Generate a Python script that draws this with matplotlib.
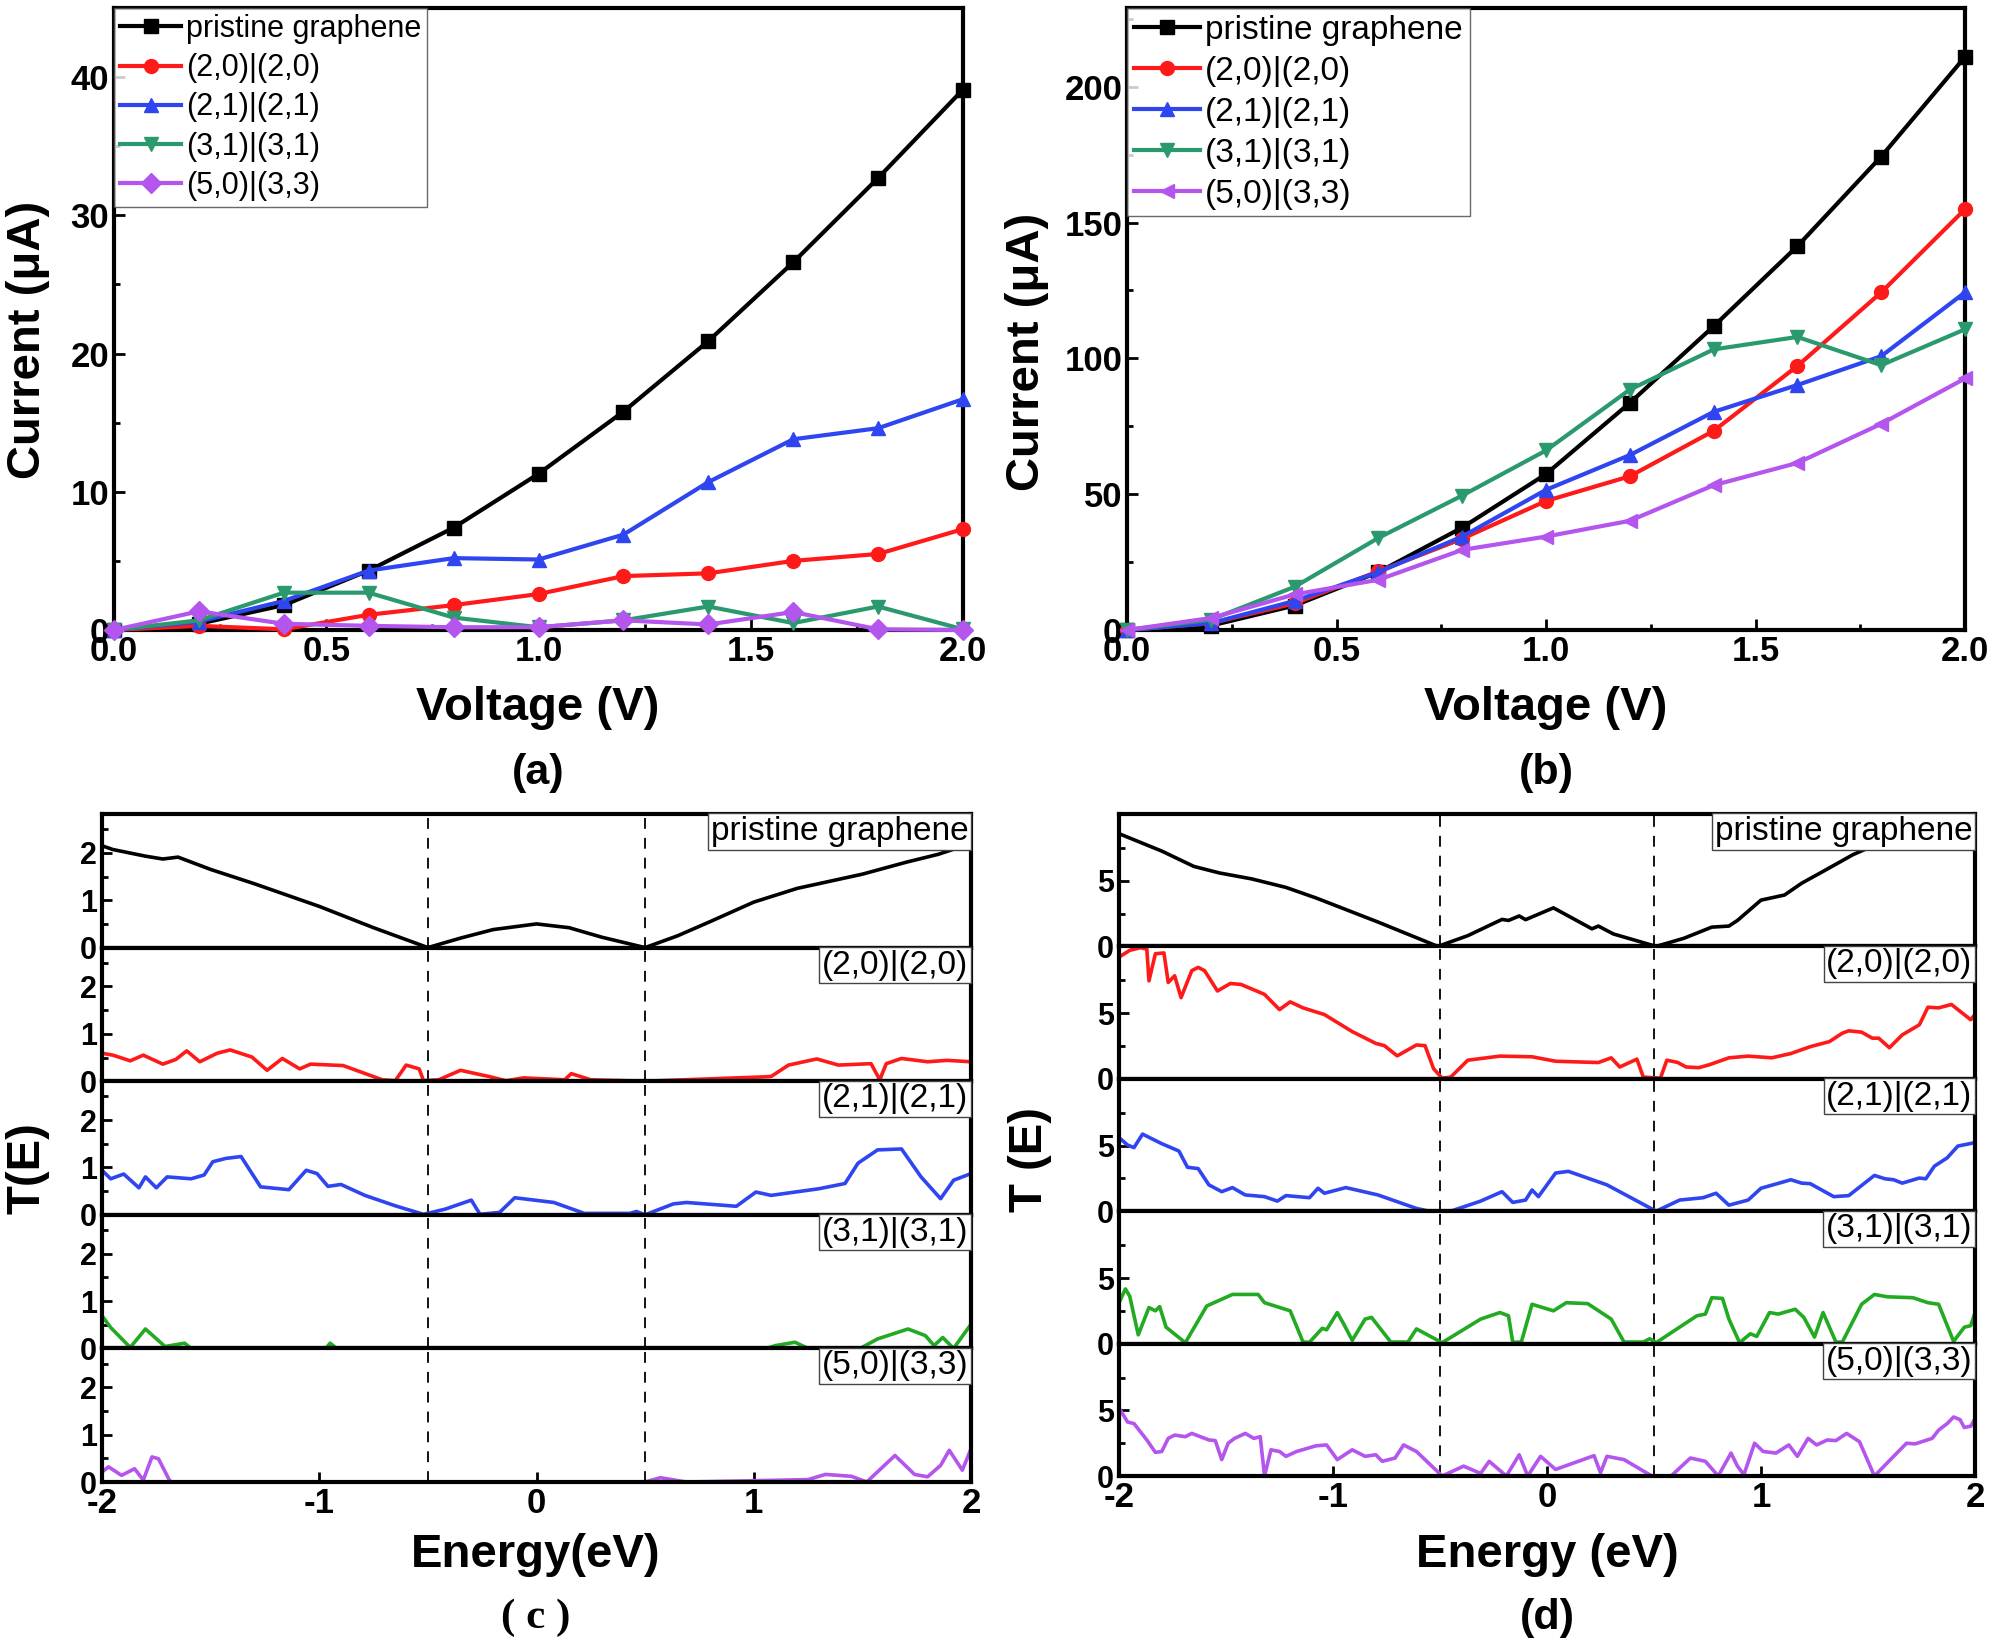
import matplotlib
matplotlib.use("Agg")
import matplotlib.pyplot as plt
from matplotlib.ticker import MultipleLocator, FixedLocator

plt.rcParams['font.family'] = ['Liberation Sans', 'DejaVu Sans']

# ---------------- I-V data, panels (a) and (b) ----------------
voltage = [0.0, 0.2, 0.4, 0.6, 0.8, 1.0, 1.2, 1.4, 1.6, 1.8, 2.0]
labels = ["pristine graphene", "(2,0)|(2,0)", "(2,1)|(2,1)", "(3,1)|(3,1)", "(5,0)|(3,3)"]

iv_a_pristine = [0.0, 0.45, 1.8, 4.3, 7.4, 11.3, 15.8, 20.9, 26.6, 32.7, 39.1]
iv_a_20 = [0.0, 0.3, 0.05, 1.1, 1.8, 2.6, 3.9, 4.1, 5.0, 5.5, 7.3]
iv_a_21 = [0.0, 0.6, 2.1, 4.3, 5.2, 5.1, 6.9, 10.7, 13.8, 14.6, 16.7]
iv_a_31 = [0.0, 0.7, 2.7, 2.7, 0.9, 0.2, 0.7, 1.7, 0.5, 1.7, 0.05]
iv_a_50 = [0.0, 1.35, 0.45, 0.3, 0.2, 0.2, 0.7, 0.4, 1.3, 0.05, 0.0]

iv_b_pristine = [0.0, 1.6, 9.0, 21.3, 37.7, 57.4, 83.6, 111.8, 141.3, 174.3, 211.0]
iv_b_20 = [0.0, 2.5, 9.8, 21.6, 33.6, 47.5, 56.6, 73.3, 97.2, 124.3, 154.9]
iv_b_21 = [0.0, 2.5, 10.7, 21.3, 34.4, 51.6, 64.4, 80.3, 90.2, 100.8, 124.3]
iv_b_31 = [0.0, 3.8, 15.9, 33.9, 49.5, 66.1, 88.5, 103.3, 107.9, 97.5, 110.7]
iv_b_50 = [0.0, 4.4, 13.1, 18.5, 29.5, 34.4, 40.2, 53.3, 61.5, 75.9, 92.6]

# ---------------- transmission data, panel (c) ----------------
c_pristine_E = [-2.0, -1.95, -1.8, -1.72, -1.65, -1.5, -1.3, -1.0, -0.75, -0.5, -0.35, -0.2, 0.0,
                0.15, 0.3, 0.5, 0.65, 0.8, 1.0, 1.2, 1.5, 1.7, 1.85, 2.0]
c_pristine_T = [2.15, 2.07, 1.93, 1.87, 1.91, 1.65, 1.35, 0.87, 0.42, 0.0, 0.2, 0.38, 0.5,
                0.42, 0.22, 0.0, 0.25, 0.55, 0.96, 1.25, 1.55, 1.8, 1.97, 2.2]

c_20_E = [-2.0, -1.95, -1.87, -1.81, -1.72, -1.66, -1.61, -1.55, -1.47, -1.41, -1.31, -1.24, -1.17,
          -1.09, -1.04, -0.89, -0.83, -0.71, -0.65, -0.6, -0.54, -0.52, -0.45, -0.35, -0.22, -0.14,
          -0.06, 0.13, 0.16, 0.25, 0.5, 1.04, 1.08, 1.16, 1.29, 1.39, 1.54, 1.58, 1.61, 1.68, 1.8,
          1.89, 2.0]
c_20_T = [0.59, 0.55, 0.43, 0.55, 0.36, 0.46, 0.64, 0.41, 0.59, 0.66, 0.51, 0.23, 0.48,
          0.26, 0.36, 0.33, 0.23, 0.03, 0.01, 0.34, 0.26, 0.01, 0.03, 0.23, 0.10, 0.01,
          0.07, 0.03, 0.16, 0.03, 0.0, 0.09, 0.10, 0.34, 0.47, 0.34, 0.37, 0.03, 0.37, 0.48, 0.41,
          0.44, 0.41]

c_21_E = [-2.0, -1.96, -1.9, -1.83, -1.8, -1.75, -1.7, -1.59, -1.53, -1.49, -1.43, -1.36, -1.27,
          -1.14, -1.06, -1.01, -0.96, -0.9, -0.79, -0.65, -0.52, -0.42, -0.3, -0.26, -0.17, -0.1,
          0.08, 0.22, 0.43, 0.46, 0.5, 0.63, 0.69, 0.92, 1.01, 1.08, 1.3, 1.42, 1.48, 1.57, 1.68,
          1.77, 1.86, 1.92, 2.0]
c_21_T = [0.94, 0.76, 0.86, 0.57, 0.80, 0.57, 0.80, 0.76, 0.84, 1.12, 1.19, 1.23, 0.59,
          0.53, 0.94, 0.87, 0.60, 0.64, 0.41, 0.19, 0.01, 0.12, 0.31, 0.01, 0.05, 0.36,
          0.26, 0.03, 0.03, 0.07, 0.0, 0.23, 0.26, 0.18, 0.48, 0.41, 0.55, 0.66, 1.09, 1.37, 1.39,
          0.80, 0.34, 0.73, 0.87]

c_31_E = [-2.0, -1.96, -1.87, -1.8, -1.71, -1.62, -1.59, -0.97, -0.95, -0.92, 1.06, 1.1, 1.19,
          1.25, 1.49, 1.57, 1.71, 1.79, 1.83, 1.87, 1.92, 2.0]
c_31_T = [0.69, 0.44, 0.02, 0.41, 0.04, 0.11, 0.0, 0.0, 0.11, 0.0, 0.0, 0.06, 0.13,
          0.0, 0.0, 0.20, 0.41, 0.27, 0.06, 0.23, 0.0, 0.51]

c_50_E = [-2.0, -1.97, -1.91, -1.85, -1.81, -1.77, -1.74, -1.69, -1.68, 0.5, 0.57, 0.69, 1.25,
          1.33, 1.45, 1.52, 1.65, 1.74, 1.8, 1.86, 1.9, 1.96, 2.0]
c_50_T = [0.21, 0.32, 0.14, 0.28, 0.04, 0.53, 0.49, 0.04, 0.0, 0.0, 0.09, 0.0, 0.05,
          0.16, 0.12, 0.0, 0.56, 0.16, 0.11, 0.35, 0.67, 0.25, 0.70]

# ---------------- transmission data, panel (d) ----------------
d_pristine_E = [-2.0, -1.8, -1.65, -1.53, -1.38, -1.22, -1.08, -0.79, -0.51, -0.37, -0.21, -0.18,
                -0.13, -0.1, 0.03, 0.21, 0.24, 0.31, 0.51, 0.64, 0.77, 0.85, 0.89, 1.0, 1.11, 1.19,
                1.29, 1.43, 1.5]
d_pristine_T = [8.6, 7.27, 6.1, 5.6, 5.15, 4.5, 3.7, 1.86, 0.0, 0.82, 2.06, 1.98,
                2.32, 2.04, 2.94, 1.34, 1.55, 0.95, 0.0, 0.62, 1.47, 1.55, 1.98, 3.53, 3.92, 4.82,
                5.72, 7.0, 7.5]

d_20_E = [-2.0, -1.95, -1.9, -1.87, -1.86, -1.83, -1.79, -1.77, -1.74, -1.71, -1.66, -1.63, -1.6,
          -1.54, -1.48, -1.43, -1.32, -1.25, -1.2, -1.14, -1.04, -0.91, -0.8, -0.76, -0.7, -0.61,
          -0.57, -0.53, -0.49, -0.45, -0.37, -0.22, -0.07, 0.04, 0.24, 0.3, 0.34, 0.42, 0.45, 0.53,
          0.56, 0.61, 0.65, 0.71, 0.76, 0.85, 0.94, 1.05, 1.14, 1.23, 1.32, 1.38, 1.41, 1.47, 1.52,
          1.55, 1.6, 1.66, 1.74, 1.78, 1.83, 1.89, 1.93, 1.98, 2.0]
d_20_T = [9.28, 9.8, 10.0, 9.9, 7.47, 9.54, 9.6, 7.35, 7.86, 6.19, 8.25, 8.5, 8.25,
          6.7, 7.27, 7.2, 6.44, 5.28, 5.87, 5.41, 4.9, 3.6, 2.7, 2.53, 1.75, 2.58,
          2.53, 0.77, 0.05, 0.13, 1.42, 1.73, 1.68, 1.34, 1.24, 1.6, 0.9, 1.5, 0.13, 0.05,
          1.42, 1.25, 0.9, 0.85, 1.08, 1.6, 1.73, 1.6, 1.93, 2.45, 2.84, 3.48, 3.66, 3.56, 3.1,
          3.1, 2.37, 3.35, 4.12, 5.46, 5.41, 5.67, 5.15, 4.51, 4.9]

d_21_E = [-2.0, -1.96, -1.93, -1.89, -1.8, -1.72, -1.68, -1.63, -1.58, -1.52, -1.47, -1.41, -1.32,
          -1.26, -1.22, -1.11, -1.07, -1.04, -0.94, -0.79, -0.61, -0.55, -0.45, -0.31, -0.21, -0.16,
          -0.1, -0.07, -0.04, 0.04, 0.1, 0.28, 0.51, 0.62, 0.73, 0.79, 0.85, 0.94, 1.0, 1.14, 1.19,
          1.23, 1.34, 1.41, 1.53, 1.58, 1.62, 1.66, 1.74, 1.77, 1.81, 1.87, 1.92, 2.0]
d_21_T = [5.62, 5.05, 4.85, 5.88, 5.15, 4.59, 3.35, 3.25, 2.01, 1.49, 1.8, 1.24, 1.11,
          0.77, 1.19, 1.03, 1.75, 1.37, 1.8, 1.24, 0.21, 0.0, 0.0, 0.77, 1.49, 0.67,
          0.85, 1.62, 1.11, 2.91, 3.04, 2.01, 0.0, 0.85, 1.03, 1.37, 0.46, 0.85, 1.75, 2.4, 2.14,
          2.1, 1.11, 1.19, 2.73, 2.47, 2.4, 2.14, 2.53, 2.47, 3.43, 4.07, 4.97, 5.23]

d_31_E = [-2.0, -1.97, -1.95, -1.91, -1.86, -1.83, -1.81, -1.78, -1.69, -1.59, -1.47, -1.35, -1.32,
          -1.2, -1.14, -1.11, -1.05, -1.03, -0.98, -0.95, -0.91, -0.85, -0.82, -0.73, -0.65, -0.61,
          -0.49, -0.31, -0.22, -0.18, -0.16, -0.12, -0.07, 0.03, 0.09, 0.19, 0.3, 0.36, 0.45, 0.48,
          0.51, 0.7, 0.74, 0.77, 0.82, 0.85, 0.9, 0.95, 0.98, 1.04, 1.08, 1.16, 1.2, 1.25, 1.29,
          1.35, 1.38, 1.47, 1.53, 1.59, 1.71, 1.78, 1.83, 1.9, 1.95, 1.98, 2.0]
d_31_T = [3.12, 4.17, 3.62, 0.67, 2.75, 2.5, 2.82, 1.25, 0.07, 2.87, 3.75, 3.75, 3.12,
          2.5, 0.12, 0.1, 1.17, 1.05, 2.37, 1.5, 0.25, 1.87, 2.0, 0.12, 0.12, 1.12,
          0.07, 1.87, 2.37, 2.12, 0.1, 0.12, 3.0, 2.5, 3.12, 3.05, 1.87, 0.12, 0.12, 0.37,
          0.07, 2.12, 2.25, 3.5, 3.45, 1.87, 0.07, 0.75, 0.55, 2.37, 2.25, 2.62, 2.0, 0.5, 2.37,
          0.12, 0.12, 3.0, 3.75, 3.57, 3.5, 3.12, 3.0, 0.17, 1.25, 1.37, 2.37]

d_50_E = [-2.0, -1.96, -1.93, -1.87, -1.83, -1.8, -1.77, -1.74, -1.69, -1.66, -1.62, -1.58, -1.55,
          -1.52, -1.49, -1.46, -1.41, -1.37, -1.34, -1.32, -1.29, -1.25, -1.22, -1.17, -1.08, -1.03,
          -0.98, -0.91, -0.85, -0.8, -0.77, -0.71, -0.67, -0.61, -0.49, -0.39, -0.31, -0.27, -0.19,
          -0.13, -0.09, -0.03, 0.04, 0.22, 0.25, 0.28, 0.36, 0.49, 0.58, 0.67, 0.74, 0.8, 0.86,
          0.89, 0.92, 0.97, 1.01, 1.07, 1.13, 1.17, 1.22, 1.26, 1.31, 1.35, 1.4, 1.46, 1.53, 1.59,
          1.68, 1.72, 1.8, 1.83, 1.87, 1.9, 1.93, 1.95, 1.98, 2.0]
d_50_T = [5.2, 4.12, 4.0, 2.75, 1.8, 1.87, 2.87, 3.12, 3.0, 3.25, 3.0, 2.75, 2.7,
          1.25, 2.5, 2.87, 3.25, 2.87, 3.0, 0.0, 2.0, 1.87, 1.5, 1.87, 2.3, 2.37,
          1.25, 2.0, 1.5, 1.62, 1.12, 1.37, 2.37, 1.87, 0.0, 0.75, 0.2, 1.12, 0.0,
          1.62, 0.0, 1.5, 0.5, 1.55, 0.25, 1.5, 1.25, 0.0, 0.0, 1.37, 1.12, 0.0, 1.75,
          0.75, 0.1, 2.5, 1.87, 1.75, 2.37, 1.5, 2.87, 2.37, 2.75, 2.7, 3.25, 2.62, 0.0, 1.0,
          2.5, 2.45, 2.87, 3.5, 4.0, 4.5, 4.3, 3.7, 3.8, 4.37]

# ---------------- styling ----------------
iv_colors = ["black", "#ff1a1a", "#2f45f0", "#2a9a6e", "#b455ee"]
te_colors = ["black", "#ff1a1a", "#2f45f0", "#22aa22", "#b455ee"]
markers_a = ["s", "o", "^", "v", "D"]
markers_b = ["s", "o", "^", "v", "<"]

W, H = 1994, 1646
fig = plt.figure(figsize=(W / 100, H / 100), dpi=100)


def px_axes(x0, x1, y0, y1):
    # rectangle in image pixels (top-left origin) -> figure axes
    return fig.add_axes([x0 / W, 1 - y1 / H, (x1 - x0) / W, (y1 - y0) / H])


def style_spines(ax, lw=3):
    for sp in ax.spines.values():
        sp.set_linewidth(lw)


def bold_ticks(ax):
    for t in ax.get_xticklabels() + ax.get_yticklabels():
        t.set_fontweight("bold")


def iv_panel(ax, series, markers, ymax, ymaj, ymin, legsize, legspace):
    for y, lab, col, mk in zip(series, labels, iv_colors, markers):
        ax.plot(voltage, y, color=col, lw=3, marker=mk, ms=10, mec=col, label=lab,
                clip_on=False, zorder=3)
    ax.set_xlim(0, 2.0)
    ax.set_ylim(0, ymax)
    ax.xaxis.set_major_locator(MultipleLocator(0.5))
    ax.xaxis.set_minor_locator(MultipleLocator(0.25))
    ax.yaxis.set_major_locator(MultipleLocator(ymaj))
    ax.yaxis.set_minor_locator(MultipleLocator(ymin))
    ax.xaxis.set_major_formatter(plt.FuncFormatter(lambda v, p: f"{v:.1f}"))
    ax.tick_params(which="both", direction="in", width=2, labelsize=25)
    ax.tick_params(which="major", length=8)
    ax.tick_params(which="minor", length=4)
    bold_ticks(ax)
    style_spines(ax)
    leg = ax.legend(loc="upper left", fontsize=legsize, frameon=True, fancybox=False,
                    borderaxespad=0.0, borderpad=0.2, labelspacing=legspace, handlelength=2.0,
                    handletextpad=0.15)
    leg.get_frame().set_edgecolor("#444444")
    leg.get_frame().set_linewidth(1.0)


ax_a = px_axes(114, 963, 8, 630)
iv_panel(ax_a, [iv_a_pristine, iv_a_20, iv_a_21, iv_a_31, iv_a_50], markers_a, 45, 10, 5, 22, 0.3)
ax_b = px_axes(1127, 1965, 8, 630)
iv_panel(ax_b, [iv_b_pristine, iv_b_20, iv_b_21, iv_b_31, iv_b_50], markers_b, 229, 50, 25, 24, 0.3)

bold_big = dict(fontsize=34, fontweight="bold", ha="center", va="center")
fig.text(538 / W, 1 - 708 / H, "Voltage (V)", **bold_big)
fig.text(538 / W, 1 - 773 / H, "(a)", fontsize=31, fontweight="bold", ha="center", va="center")
fig.text(1546 / W, 1 - 708 / H, "Voltage (V)", **bold_big)
fig.text(1546 / W, 1 - 773 / H, "(b)", fontsize=31, fontweight="bold", ha="center", va="center")
fig.text(28 / W, 1 - 340 / H, "Current (μA)", rotation=90, **bold_big)
fig.text(1027 / W, 1 - 352 / H, "Current (μA)", rotation=90, **bold_big)


def te_panel(x0, x1, y0, y1, curves, ymax, yticks, yminor):
    n = len(curves)
    step = (y1 - y0) / n
    for i, ((E, T), lab, col) in enumerate(zip(curves, labels, te_colors)):
        ax = px_axes(x0, x1, y0 + i * step, y0 + (i + 1) * step)
        ax.plot(E, T, color=col, lw=2.6, zorder=2)
        for xv in (-0.5, 0.5):
            ax.axvline(xv, color="black", lw=1.3, ls=(0, (6, 5)), zorder=1)
        ax.set_xlim(-2, 2)
        ax.set_ylim(0, ymax)
        ax.yaxis.set_major_locator(FixedLocator(yticks))
        ax.yaxis.set_minor_locator(FixedLocator(yminor))
        ax.xaxis.set_major_locator(MultipleLocator(1))
        ax.xaxis.set_major_formatter(plt.FuncFormatter(lambda v, p: f"{v:.0f}"))
        ax.tick_params(which="both", direction="in", width=2, labelsize=22)
        ax.tick_params(which="major", length=7)
        ax.tick_params(which="minor", length=4)
        if i < n - 1:
            ax.tick_params(axis="x", which="both", bottom=False, labelbottom=False)
        else:
            ax.tick_params(axis="x", labelsize=25)
        bold_ticks(ax)
        style_spines(ax)
        ax.text(0.997, 0.985, lab, transform=ax.transAxes, ha="right", va="top",
                fontsize=24, zorder=5,
                bbox=dict(boxstyle="square,pad=0.08", fc="white", ec="#444444", lw=1.0))
    return ax


curves_c = [(c_pristine_E, c_pristine_T), (c_20_E, c_20_T), (c_21_E, c_21_T),
            (c_31_E, c_31_T), (c_50_E, c_50_T)]
curves_d = [(d_pristine_E, d_pristine_T), (d_20_E, d_20_T), (d_21_E, d_21_T),
            (d_31_E, d_31_T), (d_50_E, d_50_T)]

te_panel(102, 971, 814, 1482, curves_c, 2.82, [0, 1, 2], [0.5, 1.5, 2.5])
te_panel(1119, 1975, 814, 1476, curves_d, 10.1, [0, 5], [2.5, 7.5])

fig.text(536 / W, 1 - 1555 / H, "Energy(eV)", **bold_big)
fig.text(536 / W, 1 - 1618 / H, "( c )", fontsize=31, fontweight="bold", ha="center",
         va="center", family="Liberation Serif")
fig.text(1547 / W, 1 - 1555 / H, "Energy (eV)", **bold_big)
fig.text(1547 / W, 1 - 1618 / H, "(d)", fontsize=31, fontweight="bold", ha="center", va="center")
fig.text(27 / W, 1 - 1168 / H, "T(E)", rotation=90, **bold_big)
fig.text(1030 / W, 1 - 1160 / H, "T (E)", rotation=90, **bold_big)

fig.savefig("out.png", dpi=100)
